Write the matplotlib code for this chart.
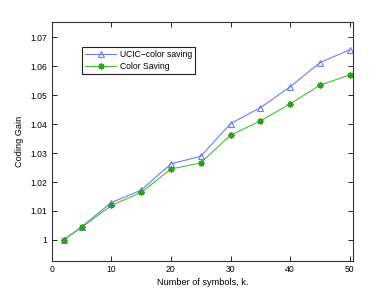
import numpy as np
import matplotlib
matplotlib.use("Agg")
import matplotlib.pyplot as plt

k = [2, 5, 10, 15, 20, 25, 30, 35, 40, 45, 50]
ucic_gain = [1.0000, 1.0045, 1.0129, 1.0172, 1.0263, 1.0289, 1.0402, 1.0457, 1.0529, 1.0613, 1.0657]
color_gain = [1.0000, 1.0043, 1.0119, 1.0164, 1.0245, 1.0266, 1.0362, 1.0411, 1.0470, 1.0535, 1.0570]

xticks = [0, 10, 20, 30, 40, 50]
yticks = [1.00, 1.01, 1.02, 1.03, 1.04, 1.05, 1.06, 1.07]
ytick_labels = ["1", "1.01", "1.02", "1.03", "1.04", "1.05", "1.06", "1.07"]

plt.rcParams['font.family'] = ['Liberation Sans', 'DejaVu Sans']
fig = plt.figure(figsize=(3.9, 2.94), dpi=100)
ax = fig.add_axes([0.1326, 0.1122, 0.7734, 0.8128])

ax.plot(k, ucic_gain, '-^', color='#6a7cff', lw=0.8, ms=5,
        mfc='none', mec='#6a7cff', mew=0.8, label='UCIC\u2212color saving')
ax.plot(k, color_gain, '-', marker=(8, 2, 0), color='#44c030', lw=0.8, ms=4.5,
        mec='#30a020', mew=1.0, label='Color Saving')

ax.set_xlim(0, 50.6)
ax.set_ylim(0.9927, 1.0753)
ax.set_xticks(xticks)
ax.set_yticks(yticks)
ax.set_yticklabels(ytick_labels)
ax.tick_params(direction='in', top=True, right=True, labelsize=6.2, length=3.5, width=0.6, pad=3)
for s in ax.spines.values():
    s.set_linewidth(0.8)
    s.set_color('#333333')

ax.set_xlabel('Number of symbols, k.', fontsize=6.6, labelpad=3)
ax.set_ylabel('Coding Gain', fontsize=6.6, labelpad=5)

leg = ax.legend(loc='upper left', bbox_to_anchor=(0.101, 0.894), borderaxespad=0,
                fontsize=6.2, fancybox=False, edgecolor='#222222', framealpha=1,
                handlelength=3.6, borderpad=0.35, labelspacing=0.3, handletextpad=0.4)
leg.get_frame().set_linewidth(0.8)

fig.savefig('out.png', dpi=100)
